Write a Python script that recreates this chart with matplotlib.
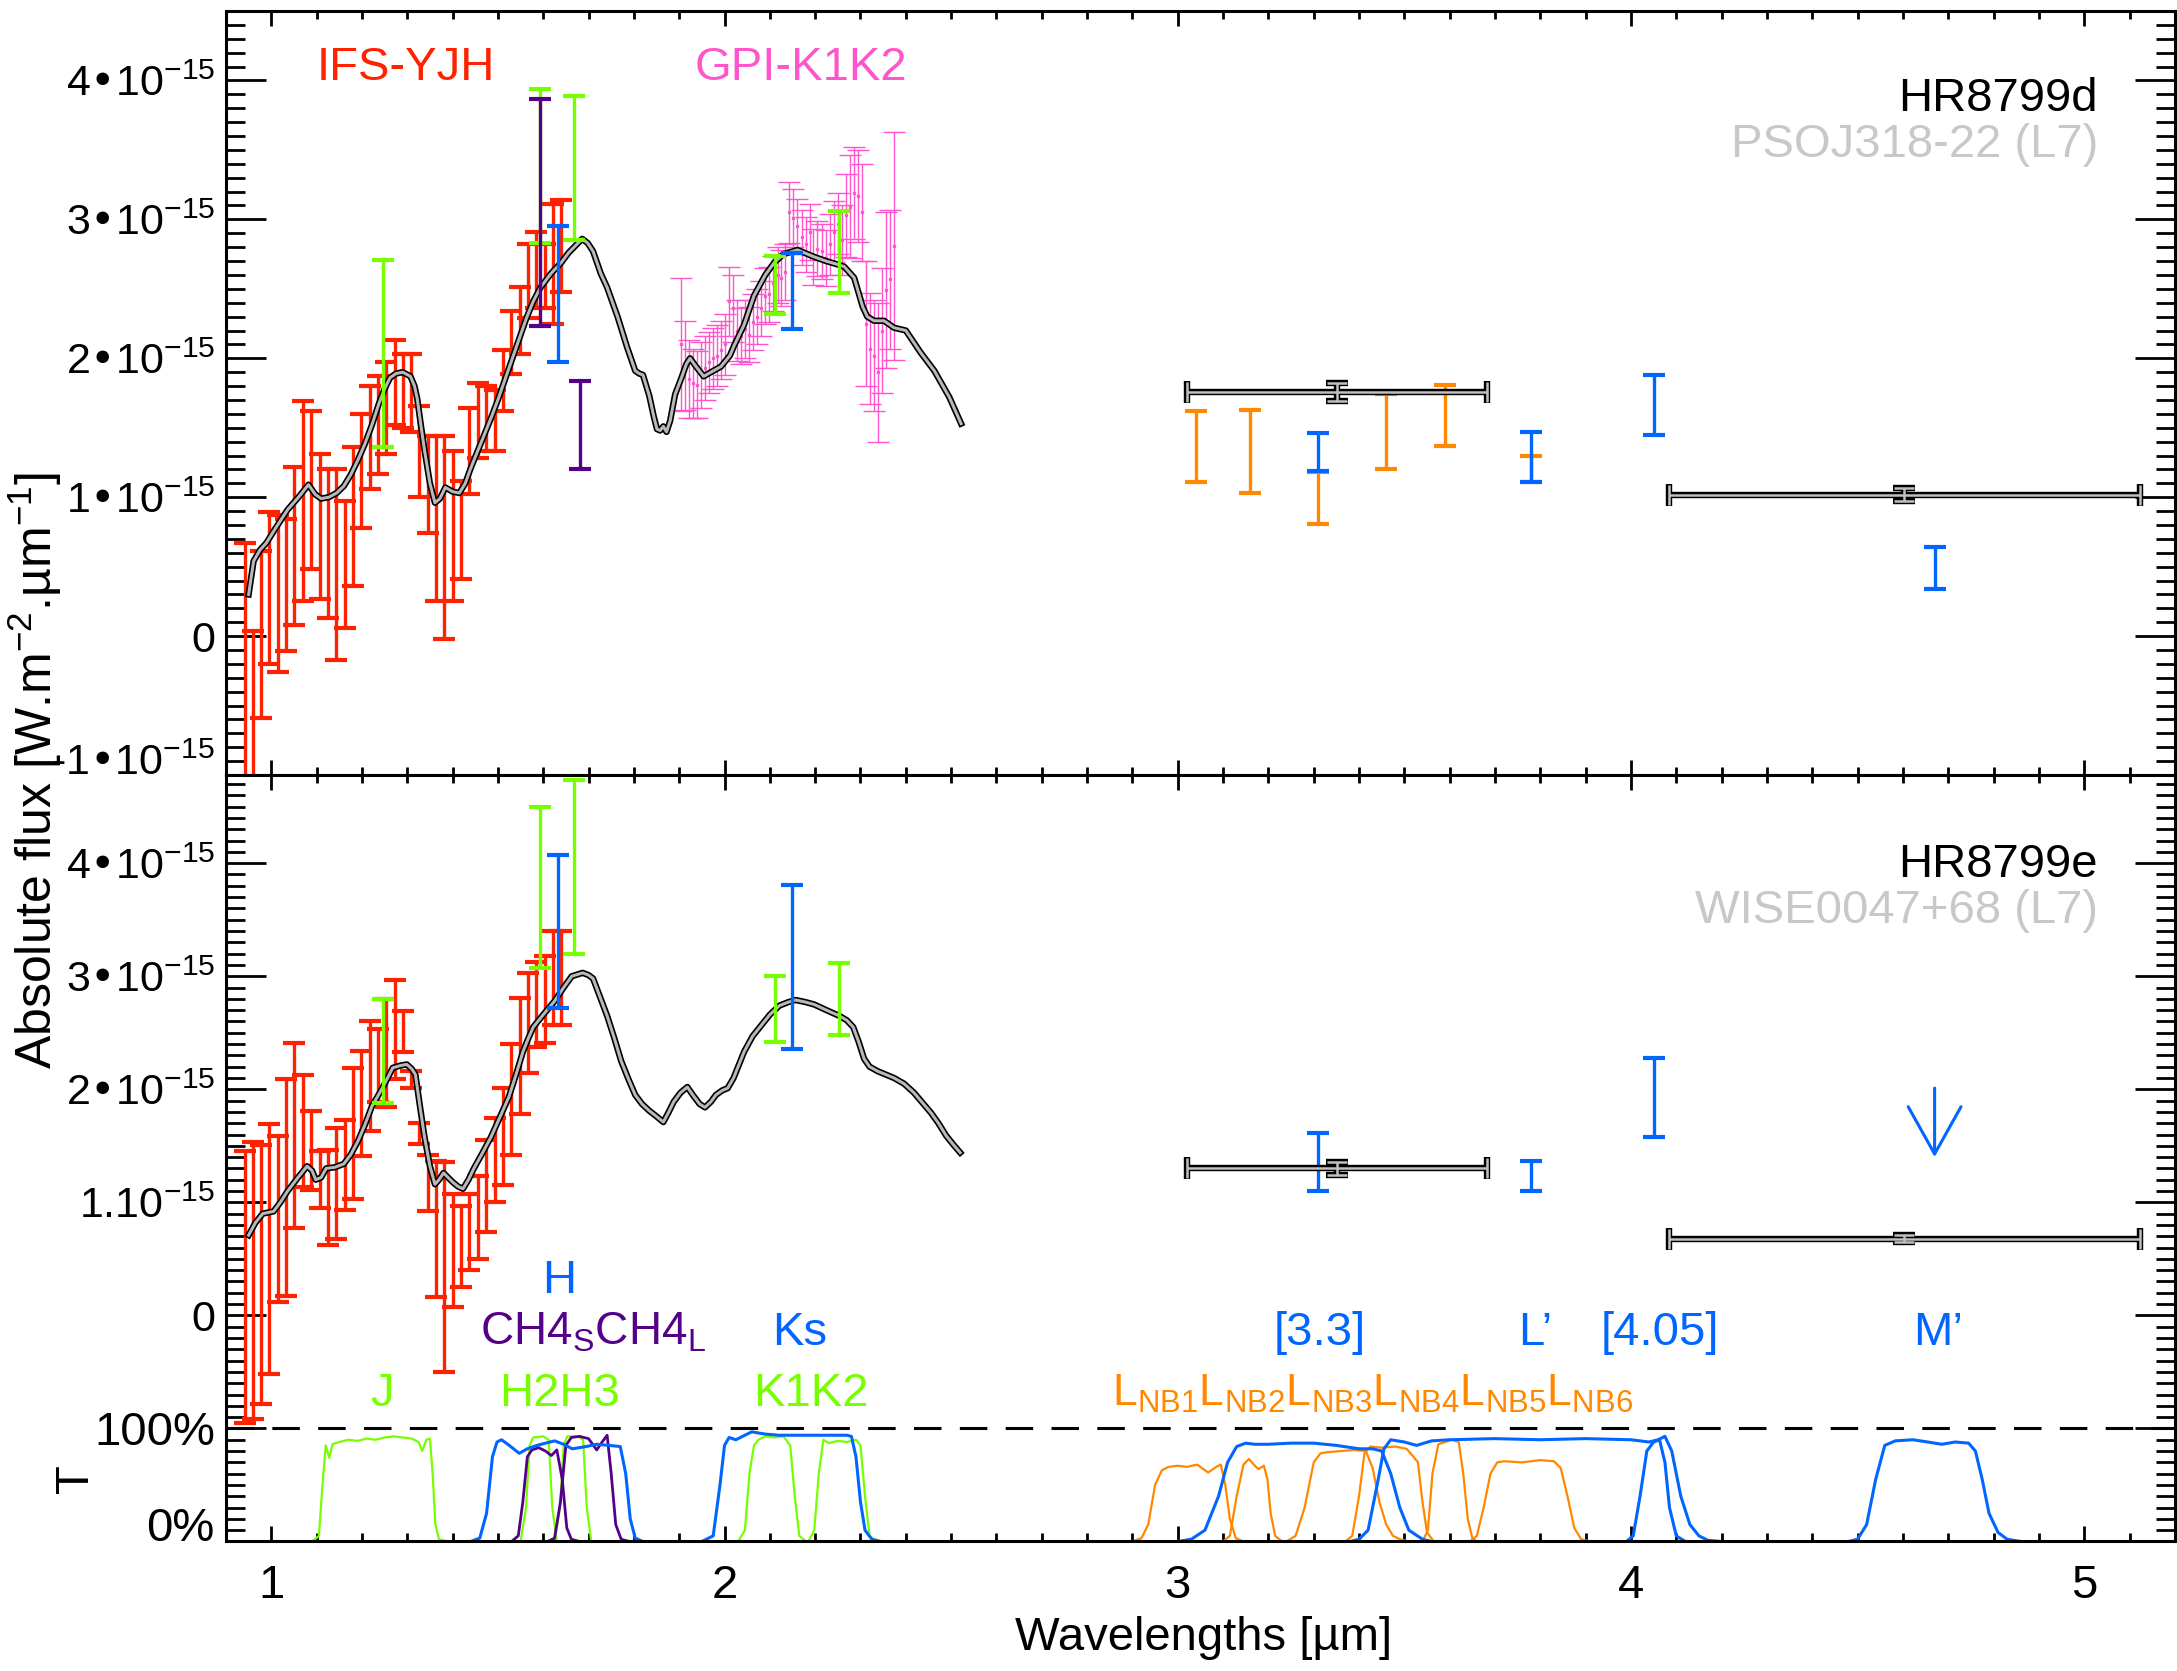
import numpy as np
import matplotlib
matplotlib.use("Agg")
import matplotlib.pyplot as plt
from matplotlib.ticker import MultipleLocator, FixedLocator

plt.rcParams['font.family'] = ['Liberation Sans', 'DejaVu Sans']
plt.rcParams['mathtext.default'] = 'regular'
plt.rcParams['font.size'] = 34

RED = '#ff2200'
PINK = '#ff55cc'
GREEN = '#77ff00'
BLUE = '#0066ff'
PURPLE = '#550088'
ORANGE = '#ff8800'
LIGHT = '#c8c8c8'

# ---- fluxes in units of 1e-15 W m-2 um-1 ----

# SPHERE IFS YJH channels
ifs_wl = [0.941, 0.960, 0.978, 0.996, 1.015, 1.033, 1.051, 1.070, 1.088, 1.107,
          1.125, 1.143, 1.162, 1.180, 1.199, 1.217, 1.235, 1.254, 1.272, 1.290,
          1.309, 1.327, 1.346, 1.364, 1.382, 1.401, 1.419, 1.437, 1.456, 1.474,
          1.493, 1.511, 1.529, 1.548, 1.566, 1.585, 1.603, 1.621, 1.640]
d_ifs_hi = [0.67, 0.04, 0.61, 0.89, 0.87, 0.84, 1.22, 1.69, 1.62, 1.31,
            1.20, 1.20, 0.97, 1.36, 1.60, 1.80, 1.87, 1.97, 2.13, 2.03,
            2.03, 1.66, 1.44, 1.44, 1.44, 1.33, 1.12, 1.64, 1.82, 1.80,
            1.77, 2.06, 2.34, 2.51, 2.82, 2.91, 2.82, 3.11, 3.14]
d_ifs_lo = [-1.40, -1.20, -0.59, -0.20, -0.26, -0.11, 0.08, 0.25, 0.48, 0.27,
            0.13, -0.17, 0.06, 0.36, 0.78, 1.06, 1.17, 1.31, 1.52, 1.50,
            1.47, 1.00, 0.74, 0.25, -0.02, 0.25, 0.41, 1.02, 1.28, 1.33,
            1.33, 1.62, 1.89, 2.03, 2.29, 2.36, 2.36, 2.25, 2.48]
e_ifs_hi = [1.45, 1.53, 1.51, 1.69, 1.59, 2.09, 2.41, 2.13, 1.81, 1.45,
            1.46, 1.66, 1.73, 2.19, 2.34, 2.60, 2.53, 2.80, 2.97, 2.69,
            2.16, 1.70, 1.42, 1.37, 1.36, 1.07, 0.97, 1.07, 1.23, 1.55,
            1.75, 2.01, 2.40, 2.81, 3.03, 3.13, 3.18, 3.40, 3.40]
e_ifs_lo = [-0.95, -0.92, -0.78, -0.52, 0.12, 0.17, 0.77, 1.14, 1.11, 0.95,
            0.62, 0.68, 0.93, 1.03, 1.41, 1.63, 1.89, 1.84, 2.09, 2.33,
            2.01, 1.52, 0.92, 0.16, -0.50, 0.07, 0.25, 0.40, 0.50, 0.74,
            1.00, 1.15, 1.42, 1.78, 2.14, 2.37, 2.41, 2.57, 2.57]

# GPI K1/K2 spectrum (HR8799d)
gpi_wl = [1.904, 1.913, 1.922, 1.931, 1.940, 1.948, 1.957, 1.966, 1.975, 1.983,
          1.992, 2.001, 2.010, 2.019, 2.028, 2.037, 2.046, 2.054, 2.063, 2.072,
          2.081, 2.090, 2.099, 2.108, 2.117, 2.125, 2.134, 2.143, 2.152, 2.161,
          2.170, 2.179, 2.188, 2.196, 2.205, 2.214, 2.223, 2.232, 2.241, 2.250,
          2.259, 2.267, 2.276, 2.285, 2.294, 2.303, 2.312, 2.321, 2.330, 2.339,
          2.348, 2.357, 2.366, 2.375]
gpi_flux = [2.10, 1.95, 1.85, 1.82, 1.81, 1.88, 1.93, 1.97, 2.00, 2.02,
            2.06, 2.10, 2.41, 2.36, 2.20, 2.16, 2.21, 2.17, 2.26, 2.30,
            2.36, 2.45, 2.46, 2.54, 2.60, 2.58, 2.62, 3.05, 3.01, 2.95,
            2.87, 2.82, 2.91, 2.73, 2.79, 2.77, 2.72, 2.82, 2.91, 2.97,
            2.85, 3.03, 3.09, 3.19, 3.17, 3.05, 2.25, 2.07, 2.02, 1.90,
            2.20, 2.49, 2.57, 2.81]
gpi_err = [0.48, 0.32, 0.28, 0.25, 0.24, 0.24, 0.23, 0.22, 0.22, 0.22,
           0.21, 0.22, 0.25, 0.24, 0.22, 0.20, 0.21, 0.20, 0.20, 0.20,
           0.20, 0.20, 0.20, 0.20, 0.20, 0.20, 0.20, 0.22, 0.21, 0.20,
           0.20, 0.20, 0.20, 0.20, 0.20, 0.20, 0.20, 0.22, 0.22, 0.22,
           0.25, 0.30, 0.37, 0.33, 0.33, 0.35, 0.45, 0.40, 0.40, 0.50,
           0.45, 0.56, 0.50, 0.82]

# IRDIS / NACO photometry: (wavelength, low, high)
j_wl, h2_wl, h3_wl, h_wl = 1.246, 1.592, 1.667, 1.632
ch4s_wl, ch4l_wl = 1.592, 1.682
k1_wl, ks_wl, k2_wl = 2.111, 2.148, 2.253

d_green_wl = [j_wl, h2_wl, h3_wl, k1_wl, k2_wl]
d_green_lo = [1.36, 2.83, 2.85, 2.32, 2.47]
d_green_hi = [2.71, 3.94, 3.89, 2.74, 3.06]
d_purple_wl = [ch4s_wl, ch4l_wl]
d_purple_lo = [2.23, 1.20]
d_purple_hi = [3.87, 1.84]
d_blue_wl = [h_wl, ks_wl, 3.31, 3.78, 4.05, 4.67]
d_blue_lo = [1.97, 2.21, 1.19, 1.11, 1.45, 0.34]
d_blue_hi = [2.95, 2.76, 1.46, 1.47, 1.88, 0.64]
d_orange_wl = [3.04, 3.16, 3.31, 3.46, 3.59, 3.78]
d_orange_lo = [1.11, 1.03, 0.81, 1.20, 1.37, 1.11]
d_orange_hi = [1.62, 1.63, 1.18, 1.74, 1.81, 1.30]

e_green_wl = [j_wl, h2_wl, h3_wl, k1_wl, k2_wl]
e_green_lo = [1.88, 3.07, 3.20, 2.42, 2.48]
e_green_hi = [2.80, 4.50, 4.74, 3.00, 3.12]
e_blue_wl = [h_wl, ks_wl, 3.31, 3.78, 4.05]
e_blue_lo = [2.72, 2.36, 1.10, 1.10, 1.58]
e_blue_hi = [4.07, 3.81, 1.61, 1.37, 2.28]
e_mprime_wl = 4.67
e_mprime_lim = 2.01

# comparison object broad-band photometry: centre, half-width, flux, error
cmp_wl = [3.352, 4.603]
cmp_halfwidth = [0.331, 0.520]
d_cmp_flux = [1.757, 1.018]
d_cmp_err = [0.065, 0.045]
e_cmp_flux = [1.30, 0.68]
e_cmp_err = [0.055, 0.03]

# comparison spectra
d_mod_wl = [0.950, 0.961, 0.975, 0.989, 1.010, 1.036, 1.060, 1.082, 1.097, 1.110,
            1.127, 1.144, 1.160, 1.175, 1.190, 1.206, 1.222, 1.237, 1.250, 1.262,
            1.275, 1.290, 1.307, 1.316, 1.322, 1.330, 1.338, 1.350, 1.361, 1.372,
            1.384, 1.400, 1.415, 1.428, 1.439, 1.455, 1.470, 1.486, 1.501, 1.517,
            1.532, 1.548, 1.563, 1.578, 1.594, 1.617, 1.640, 1.656, 1.671, 1.686,
            1.698, 1.710, 1.727, 1.741, 1.764, 1.785, 1.803, 1.812, 1.820, 1.834,
            1.844, 1.851, 1.858, 1.865, 1.872, 1.880, 1.891, 1.905, 1.916, 1.924,
            1.935, 1.954, 1.970, 1.992, 2.012, 2.021, 2.043, 2.065, 2.090, 2.110,
            2.130, 2.161, 2.198, 2.224, 2.245, 2.264, 2.286, 2.305, 2.315, 2.330,
            2.352, 2.374, 2.400, 2.433, 2.463, 2.496, 2.522]
d_mod_flux = [0.30, 0.54, 0.62, 0.67, 0.78, 0.91, 1.00, 1.09, 1.02, 0.99,
              1.00, 1.03, 1.08, 1.16, 1.26, 1.38, 1.52, 1.67, 1.78, 1.86,
              1.89, 1.90, 1.87, 1.80, 1.71, 1.52, 1.34, 1.10, 0.96, 0.99,
              1.07, 1.04, 1.03, 1.10, 1.20, 1.33, 1.45, 1.58, 1.71, 1.86,
              2.00, 2.15, 2.29, 2.41, 2.51, 2.61, 2.69, 2.76, 2.81, 2.86,
              2.83, 2.77, 2.61, 2.51, 2.30, 2.08, 1.91, 1.89, 1.88, 1.73,
              1.58, 1.49, 1.48, 1.51, 1.47, 1.55, 1.74, 1.86, 1.96, 2.00,
              1.95, 1.87, 1.90, 1.94, 2.02, 2.09, 2.24, 2.45, 2.60, 2.69,
              2.75, 2.78, 2.73, 2.70, 2.68, 2.66, 2.58, 2.37, 2.30, 2.27,
              2.27, 2.22, 2.20, 2.04, 1.91, 1.72, 1.53]

e_mod_wl = [0.950, 0.965, 0.981, 1.005, 1.020, 1.036, 1.059, 1.079, 1.090, 1.098,
            1.110, 1.121, 1.140, 1.160, 1.175, 1.191, 1.206, 1.222, 1.245, 1.268,
            1.285, 1.299, 1.310, 1.318, 1.328, 1.338, 1.350, 1.361, 1.370, 1.380,
            1.390, 1.400, 1.412, 1.423, 1.435, 1.447, 1.465, 1.485, 1.504, 1.524,
            1.540, 1.555, 1.567, 1.578, 1.600, 1.625, 1.645, 1.663, 1.687, 1.700,
            1.710, 1.725, 1.741, 1.757, 1.772, 1.788, 1.803, 1.818, 1.834, 1.850,
            1.865, 1.877, 1.888, 1.903, 1.918, 1.930, 1.945, 1.957, 1.970, 1.981,
            1.995, 2.007, 2.020, 2.043, 2.062, 2.082, 2.100, 2.121, 2.140, 2.157,
            2.180, 2.198, 2.225, 2.253, 2.270, 2.284, 2.296, 2.308, 2.320, 2.338,
            2.356, 2.374, 2.396, 2.418, 2.437, 2.456, 2.472, 2.489, 2.505, 2.520]
e_mod_flux = [0.71, 0.82, 0.90, 0.92, 1.00, 1.10, 1.22, 1.32, 1.28, 1.20,
              1.22, 1.30, 1.31, 1.34, 1.42, 1.54, 1.68, 1.85, 2.01, 2.19,
              2.21, 2.22, 2.18, 2.13, 1.85, 1.58, 1.32, 1.16, 1.20, 1.26,
              1.22, 1.18, 1.14, 1.12, 1.20, 1.30, 1.43, 1.58, 1.75, 1.93,
              2.13, 2.33, 2.45, 2.55, 2.66, 2.78, 2.90, 3.00, 3.03, 3.01,
              2.98, 2.82, 2.65, 2.45, 2.25, 2.09, 1.95, 1.87, 1.81, 1.76,
              1.71, 1.80, 1.89, 1.97, 2.02, 1.95, 1.87, 1.84, 1.89, 1.95,
              1.99, 2.01, 2.10, 2.33, 2.47, 2.57, 2.66, 2.74, 2.77, 2.79,
              2.77, 2.75, 2.70, 2.65, 2.61, 2.55, 2.42, 2.27, 2.20, 2.16,
              2.13, 2.10, 2.05, 1.97, 1.88, 1.79, 1.70, 1.59, 1.51, 1.44]

# filter transmissions (0-1)
filt_j = ([0.90, 1.09, 1.105, 1.113, 1.12, 1.128, 1.135, 1.15, 1.17, 1.19, 1.21, 1.23, 1.25,
           1.27, 1.29, 1.31, 1.325, 1.333, 1.342, 1.35, 1.356, 1.362, 1.37, 1.39],
          [0.0, 0.0, 0.05, 0.5, 0.85, 0.74, 0.86, 0.88, 0.9, 0.89, 0.91, 0.9, 0.92,
           0.93, 0.92, 0.91, 0.88, 0.8, 0.9, 0.91, 0.6, 0.15, 0.02, 0.0])
filt_h2 = ([1.55, 1.562, 1.57, 1.578, 1.60, 1.612, 1.62, 1.63],
           [0.0, 0.3, 0.85, 0.92, 0.93, 0.9, 0.3, 0.0])
filt_h3 = ([1.625, 1.637, 1.645, 1.653, 1.675, 1.688, 1.696, 1.706],
           [0.0, 0.3, 0.85, 0.93, 0.93, 0.9, 0.3, 0.0])
filt_k1 = ([2.03, 2.045, 2.055, 2.065, 2.075, 2.09, 2.11, 2.13, 2.145, 2.155, 2.165, 2.18],
           [0.0, 0.1, 0.6, 0.85, 0.9, 0.93, 0.92, 0.93, 0.85, 0.4, 0.05, 0.0])
filt_k2 = ([2.185, 2.198, 2.208, 2.218, 2.23, 2.25, 2.27, 2.29, 2.30, 2.31, 2.32, 2.335, 2.70],
           [0.0, 0.1, 0.6, 0.9, 0.87, 0.89, 0.88, 0.9, 0.85, 0.4, 0.05, 0.0, 0.0])
filt_ch4s = ([1.53, 1.545, 1.555, 1.565, 1.575, 1.59, 1.605, 1.618, 1.63, 1.642, 1.652, 1.662, 1.68],
             [0.0, 0.05, 0.35, 0.75, 0.81, 0.83, 0.8, 0.76, 0.81, 0.55, 0.12, 0.02, 0.0])
filt_ch4l = ([1.61, 1.625, 1.638, 1.65, 1.662, 1.68, 1.70, 1.718, 1.73, 1.741, 1.75, 1.76, 1.772, 1.79],
             [0.0, 0.03, 0.35, 0.85, 0.92, 0.93, 0.91, 0.81, 0.88, 0.94, 0.6, 0.15, 0.02, 0.0])
filt_h = ([1.44, 1.46, 1.475, 1.488, 1.498, 1.508, 1.525, 1.547, 1.565, 1.586, 1.605,
           1.625, 1.645, 1.664, 1.695, 1.718, 1.745, 1.77, 1.782, 1.792, 1.803, 1.82],
          [0.0, 0.03, 0.25, 0.75, 0.88, 0.9, 0.85, 0.78, 0.82, 0.85, 0.87,
           0.89, 0.86, 0.82, 0.84, 0.86, 0.85, 0.84, 0.6, 0.2, 0.03, 0.0])
filt_ks = ([1.95, 1.975, 1.99, 2.0, 2.01, 2.025, 2.04, 2.06, 2.09, 2.12, 2.16, 2.2,
            2.24, 2.27, 2.28, 2.29, 2.30, 2.31, 2.325, 2.345],
           [0.0, 0.05, 0.5, 0.85, 0.92, 0.9, 0.93, 0.97, 0.95, 0.94, 0.94, 0.94,
            0.94, 0.94, 0.93, 0.75, 0.35, 0.1, 0.02, 0.0])
filt_nb1 = ([2.90, 2.92, 2.935, 2.95, 2.965, 2.98, 3.0, 3.02, 3.043, 3.067, 3.085, 3.095,
             3.105, 3.115, 3.128, 3.145],
            [0.0, 0.03, 0.15, 0.5, 0.63, 0.66, 0.67, 0.66, 0.68, 0.61, 0.66, 0.68,
             0.5, 0.2, 0.03, 0.0])
filt_nb2 = ([3.10, 3.115, 3.13, 3.145, 3.157, 3.168, 3.178, 3.19, 3.198, 3.205, 3.215, 3.23],
            [0.0, 0.05, 0.4, 0.68, 0.73, 0.68, 0.64, 0.67, 0.55, 0.25, 0.05, 0.0])
filt_nb3 = ([3.24, 3.26, 3.28, 3.30, 3.315, 3.33, 3.36, 3.39, 3.415, 3.43, 3.445, 3.46,
             3.475, 3.49, 3.51],
            [0.0, 0.05, 0.3, 0.7, 0.78, 0.79, 0.8, 0.81, 0.8, 0.65, 0.35, 0.15,
             0.05, 0.02, 0.0])
filt_nb4 = ([3.37, 3.385, 3.40, 3.412, 3.425, 3.45, 3.48, 3.505, 3.52, 3.53, 3.54, 3.55, 3.565],
            [0.0, 0.05, 0.4, 0.78, 0.84, 0.83, 0.84, 0.82, 0.75, 0.7, 0.35, 0.08, 0.0])
filt_nb5 = ([3.54, 3.552, 3.562, 3.575, 3.59, 3.605, 3.62, 3.63, 3.64, 3.65, 3.66],
            [0.0, 0.1, 0.6, 0.86, 0.88, 0.9, 0.88, 0.6, 0.2, 0.03, 0.0])
filt_nb6 = ([3.645, 3.66, 3.675, 3.69, 3.705, 3.72, 3.76, 3.80, 3.83, 3.845, 3.86,
             3.875, 3.89, 3.91],
            [0.0, 0.05, 0.3, 0.6, 0.7, 0.71, 0.7, 0.72, 0.71, 0.65, 0.4,
             0.12, 0.02, 0.0])
filt_33 = ([3.0, 3.03, 3.06, 3.09, 3.11, 3.13, 3.15, 3.17, 3.2, 3.25, 3.3, 3.35, 3.4,
            3.43, 3.45, 3.47, 3.49, 3.51, 3.54, 3.56],
           [0.0, 0.02, 0.1, 0.4, 0.7, 0.84, 0.87, 0.86, 0.86, 0.87, 0.87, 0.85, 0.82,
            0.82, 0.8, 0.6, 0.3, 0.1, 0.02, 0.0])
filt_lp = ([3.38, 3.40, 3.42, 3.44, 3.455, 3.47, 3.50, 3.527, 3.56, 3.6, 3.7, 3.8, 3.9,
            4.0, 4.04, 4.06, 4.075, 4.09, 4.11, 4.13, 4.15, 4.17, 4.2],
           [0.0, 0.02, 0.1, 0.5, 0.82, 0.9, 0.88, 0.85, 0.89, 0.9, 0.91, 0.9, 0.91,
            0.9, 0.88, 0.9, 0.93, 0.8, 0.4, 0.15, 0.05, 0.01, 0.0])
filt_405 = ([3.99, 4.005, 4.02, 4.035, 4.05, 4.063, 4.075, 4.085, 4.10, 4.12],
            [0.0, 0.05, 0.4, 0.8, 0.88, 0.9, 0.7, 0.3, 0.05, 0.0])
filt_mp = ([4.48, 4.50, 4.52, 4.54, 4.56, 4.583, 4.622, 4.655, 4.686, 4.715, 4.745,
            4.76, 4.775, 4.79, 4.81, 4.83, 4.86],
           [0.0, 0.02, 0.15, 0.55, 0.85, 0.89, 0.9, 0.88, 0.86, 0.88, 0.87,
            0.8, 0.55, 0.25, 0.08, 0.02, 0.0])

T_ZERO = -2.0   # transmission 0 % sits at this flux level on the lower panel


def bars(ax, wl, lo, hi, color, lw=2.4, cap=8, z=5):
    lo = np.asarray(lo, float)
    hi = np.asarray(hi, float)
    mid = (lo + hi) / 2
    ax.errorbar(wl, mid, yerr=[mid - lo, hi - mid], fmt='none', ecolor=color,
                elinewidth=lw, capsize=cap, capthick=lw + 0.6, zorder=z)


def model(ax, wl, flux):
    ax.plot(wl, flux, color='black', lw=4.6, zorder=4, solid_joinstyle='round')
    ax.plot(wl, flux, color='#b8b8b8', lw=2.2, zorder=4.1, solid_joinstyle='round')


def broadband(ax, wl, hw, flux, err):
    ax.errorbar(wl, flux, xerr=hw, yerr=err, fmt='none', ecolor='black',
                elinewidth=4.6, capsize=8, capthick=4.6, zorder=6)
    ax.errorbar(wl, flux, xerr=hw, yerr=err, fmt='none', ecolor='#c0c0c0',
                elinewidth=1.8, capsize=7.2, capthick=1.8, zorder=6.1)


def style(ax, yticks, ylabels):
    ax.set_xlim(0.9, 5.2)
    ax.xaxis.set_major_locator(FixedLocator([1, 2, 3, 4, 5]))
    ax.xaxis.set_minor_locator(MultipleLocator(0.1))
    ax.yaxis.set_major_locator(FixedLocator(yticks))
    ax.yaxis.set_minor_locator(MultipleLocator(0.1))
    ax.set_yticklabels(ylabels)
    ax.tick_params(which='both', direction='in', top=True, right=True, width=2)
    ax.tick_params(axis='x', which='major', length=11, pad=16, labelsize=34)
    ax.tick_params(axis='x', which='minor', length=5.5)
    ax.tick_params(axis='y', which='major', length=29, pad=8, labelsize=31)
    ax.tick_params(axis='y', which='minor', length=14)
    for s in ax.spines.values():
        s.set_linewidth(2.2)


fig = plt.figure(figsize=(21.77, 16.71), dpi=100)
ax_d = fig.add_axes([0.1038, 0.5362, 0.8952, 0.4572])
ax_e = fig.add_axes([0.1038, 0.0775, 0.8952, 0.4587])

# ---------------- HR8799d ----------------
ax_d.set_ylim(-1.0, 4.5)
bars(ax_d, ifs_wl, d_ifs_lo, d_ifs_hi, RED, z=3)
ax_d.errorbar(gpi_wl, gpi_flux, yerr=gpi_err, fmt='s', ms=2, color=PINK,
              ecolor=PINK, elinewidth=1.0, capsize=8, capthick=1.0, zorder=3)
model(ax_d, d_mod_wl, d_mod_flux)
bars(ax_d, d_green_wl, d_green_lo, d_green_hi, GREEN)
bars(ax_d, d_purple_wl, d_purple_lo, d_purple_hi, PURPLE)
bars(ax_d, d_orange_wl, d_orange_lo, d_orange_hi, ORANGE)
bars(ax_d, d_blue_wl, d_blue_lo, d_blue_hi, BLUE)
broadband(ax_d, cmp_wl, cmp_halfwidth, d_cmp_flux, d_cmp_err)

ax_d.text(1.101, 4.0, 'IFS-YJH', color=RED, ha='left', va='baseline')
ax_d.text(1.935, 4.0, 'GPI-K1K2', color=PINK, ha='left', va='baseline')
ax_d.text(5.03, 3.78, 'HR8799d', color='black', ha='right', va='baseline')
ax_d.text(5.03, 3.45, 'PSOJ318-22 (L7)', color=LIGHT, ha='right', va='baseline')

style(ax_d, [-1, 0, 1, 2, 3, 4],
      ['-1•10$^{-15}$', '0', '1•10$^{-15}$', '2•10$^{-15}$', '3•10$^{-15}$', '4•10$^{-15}$'])
ax_d.tick_params(axis='x', labelbottom=False)
ax_d.get_yticklabels()[0].set_verticalalignment('baseline')

# ---------------- HR8799e + filters ----------------
ax_e.set_ylim(-2.0, 4.78)
green_filters = [filt_j, filt_h2, filt_h3, filt_k1, filt_k2]
purple_filters = [filt_ch4s, filt_ch4l]
blue_filters = [filt_h, filt_ks, filt_33, filt_lp, filt_405, filt_mp]
orange_filters = [filt_nb1, filt_nb2, filt_nb3, filt_nb4, filt_nb5, filt_nb6]
for wl, tr in green_filters:
    ax_e.plot(wl, T_ZERO + np.asarray(tr), color=GREEN, lw=1.6, zorder=2)
for wl, tr in orange_filters:
    ax_e.plot(wl, T_ZERO + np.asarray(tr), color=ORANGE, lw=1.6, zorder=2)
for wl, tr in purple_filters:
    ax_e.plot(wl, T_ZERO + np.asarray(tr), color=PURPLE, lw=2.0, zorder=2.1)
for wl, tr in blue_filters:
    ax_e.plot(wl, T_ZERO + np.asarray(tr), color=BLUE, lw=2.2, zorder=2.2)
ax_e.axhline(T_ZERO + 1.0, color='black', lw=2.2, ls=(0, (9, 6)), zorder=1)

bars(ax_e, ifs_wl, e_ifs_lo, e_ifs_hi, RED, z=3)
model(ax_e, e_mod_wl, e_mod_flux)
bars(ax_e, e_green_wl, e_green_lo, e_green_hi, GREEN)
bars(ax_e, e_blue_wl, e_blue_lo, e_blue_hi, BLUE)
ax_e.annotate('', xy=(e_mprime_wl, e_mprime_lim - 0.61), xytext=(e_mprime_wl, e_mprime_lim),
              arrowprops=dict(arrowstyle='->,head_length=1.7,head_width=0.95', color=BLUE,
                              lw=2.2, mutation_scale=20, shrinkA=0, shrinkB=0), zorder=5)
broadband(ax_e, cmp_wl, cmp_halfwidth, e_cmp_flux, e_cmp_err)

ax_e.text(5.03, 3.88, 'HR8799e', color='black', ha='right', va='baseline')
ax_e.text(5.03, 3.47, 'WISE0047+68 (L7)', color=LIGHT, ha='right', va='baseline')

# filter names
ax_e.text(1.636, 0.20, 'H', color=BLUE, ha='center', va='baseline')
ax_e.text(1.46, -0.26, 'CH4$_{S}$CH4$_{L}$', color=PURPLE, ha='left', va='baseline',
          fontsize=33)
ax_e.text(2.165, -0.26, 'Ks', color=BLUE, ha='center', va='baseline')
ax_e.text(3.314, -0.26, '[3.3]', color=BLUE, ha='center', va='baseline')
ax_e.text(3.788, -0.26, 'L’', color=BLUE, ha='center', va='baseline')
ax_e.text(4.064, -0.26, '[4.05]', color=BLUE, ha='center', va='baseline')
ax_e.text(4.677, -0.26, 'M’', color=BLUE, ha='center', va='baseline')
ax_e.text(1.245, -0.80, 'J', color=GREEN, ha='center', va='baseline')
ax_e.text(1.636, -0.80, 'H2H3', color=GREEN, ha='center', va='baseline')
ax_e.text(2.19, -0.80, 'K1K2', color=GREEN, ha='center', va='baseline')
ax_e.text(2.855, -0.80, 'L$_{NB1}$L$_{NB2}$L$_{NB3}$L$_{NB4}$L$_{NB5}$L$_{NB6}$',
          color=ORANGE, ha='left', va='baseline', fontsize=32)

style(ax_e, [-2, -1, 0, 1, 2, 3, 4],
      ['0%', '100%', '0', '1.10$^{-15}$', '2•10$^{-15}$', '3•10$^{-15}$', '4•10$^{-15}$'])
ax_e.get_yticklabels()[0].set_verticalalignment('baseline')
for lbl in ax_e.get_yticklabels()[:2]:
    lbl.set_fontsize(34)

fig.text(0.016, 0.539, 'Absolute flux [W.m$^{-2}$.µm$^{-1}$]', rotation=90,
         ha='center', va='center', fontsize=36)
fig.text(0.035, 0.115, 'T', rotation=90, ha='center', va='center')
fig.text(0.553, 0.0197, 'Wavelengths [µm]', ha='center', va='center')

fig.savefig('out.png', dpi=100)
